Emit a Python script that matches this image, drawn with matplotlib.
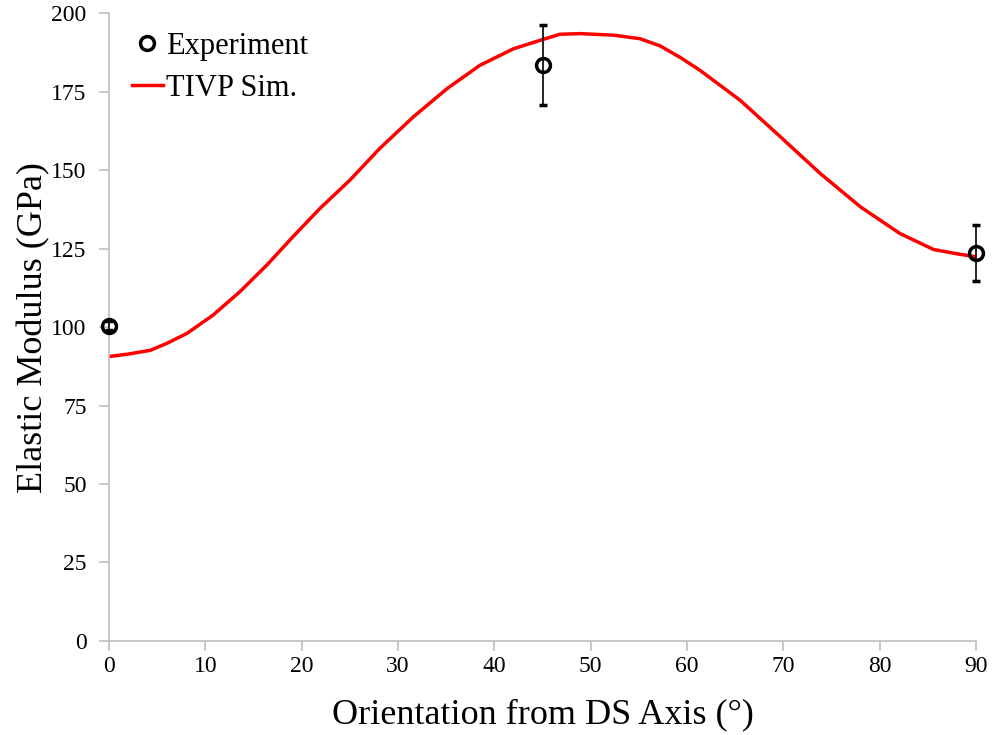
import matplotlib
matplotlib.use('Agg')
import matplotlib.pyplot as plt
from matplotlib.lines import Line2D

plt.rcParams['font.family'] = ['Liberation Serif', 'DejaVu Serif']

# experiment
exp_angle = [0, 45, 90]
exp_modulus = [100.5, 183.5, 123.5]
exp_err = [1.5, 12.6, 8.9]

# TIVP simulation curve
sim_angle = [0, 2, 4.3, 6.0, 8.1, 10.8, 13.6, 16.4, 19.1, 21.9, 25.0, 28.1,
             31.6, 35.1, 38.5, 42.0, 45.0, 46.8, 48.9, 52.4, 55.1, 57.2, 59.3,
             61.3, 65.5, 69.7, 73.8, 78.0, 82.1, 85.6, 88.3, 90]
sim_modulus = [90.6, 91.4, 92.6, 94.8, 98.0, 103.8, 111.3, 119.8, 128.8, 137.8,
               146.8, 156.9, 167.0, 176.0, 183.4, 188.7, 191.6, 193.3, 193.5,
               193.0, 191.9, 189.6, 185.9, 181.9, 172.3, 160.6, 149.0, 138.3,
               129.8, 124.7, 123.2, 122.4]

fig = plt.figure(figsize=(9.95, 7.35), dpi=100)
ax = fig.add_axes([0.1095, 0.128, 0.8715, 0.854])

ax.plot(sim_angle, sim_modulus, color='#ff0000', lw=2.5, zorder=2,
        solid_joinstyle='round', solid_capstyle='round')
ax.errorbar(exp_angle, exp_modulus, yerr=exp_err, fmt='o', ms=10, mfc='none',
            mec='black', mew=2.5, ecolor='black', elinewidth=1.2, capsize=3,
            capthick=1.2, zorder=3, clip_on=False)

ax.set_xlim(0, 90)
ax.set_ylim(0, 200)
ax.set_xticks(range(0, 91, 10))
ax.set_yticks(range(0, 201, 25))

for s in ['top', 'right']:
    ax.spines[s].set_visible(False)
for s in ['left', 'bottom']:
    ax.spines[s].set_color('#bfbfbf')
    ax.spines[s].set_linewidth(1.2)
ax.tick_params(axis='both', colors='#bfbfbf', labelcolor='black', labelsize=17,
               length=7, width=1.2, direction='out')
ax.tick_params(axis='y', pad=9)

ax.set_xlabel('Orientation from DS Axis (°)', fontsize=26, labelpad=16)
ax.set_ylabel('Elastic Modulus (GPa)', fontsize=26, labelpad=1)

handles = [Line2D([], [], ls='none', marker='o', ms=10, mfc='none', mec='black', mew=2.5),
           Line2D([], [], color='#ff0000', lw=2.5)]
ax.legend(handles, ['Experiment', 'TIVP Sim.'], loc='upper left', frameon=False,
          fontsize=22, handlelength=1.0, handletextpad=0.12,
          bbox_to_anchor=(-0.005, 1.014), labelspacing=0.43)

fig.savefig('out.png', dpi=100)
